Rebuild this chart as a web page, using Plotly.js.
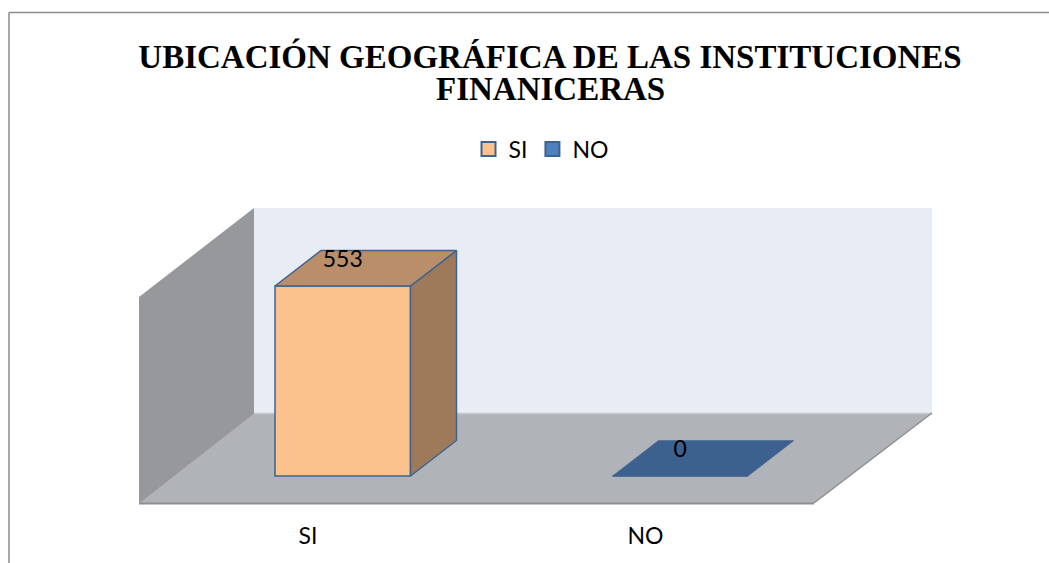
<!DOCTYPE html>
<html><head><meta charset="utf-8">
<script src="https://cdn.plot.ly/plotly-3.0.1.min.js"></script>
<style>html,body{margin:0;padding:0;background:#fff;overflow:hidden}</style>
</head><body><div id="chart" style="width:1049px;height:563px"></div>
<script>
var titleLine1 = "UBICACIÓN GEOGRÁFICA DE LAS INSTITUCIONES";
var titleLine2 = "FINANICERAS";
var categories = ["SI", "NO"];
var values = [553, 0];
var frontColors = ["#FBC28E", "#4F81BD"];
var topColors = ["#BA8E6A", "#3C618F"];
var sideColors = ["#9F7A5A", "#3C618F"];

var W = 1049, H = 563;
var plot = {l:139, r:932, t:208, b:503};
var pxPerCat = 337.5, pxPerVal = 190/553;
var xRange = [(plot.l-308)/pxPerCat, (plot.r-308)/pxPerCat];
var yRange = [-(plot.b-476)/pxPerVal, (476-plot.t)/pxPerVal];
var barOffset = -33/pxPerCat, barWidth = 135.5/pxPerCat;
var depthX = 46/pxPerCat, depthY = 35.5/pxPerVal;
var labelLift = 25/pxPerVal;
var edge = "#3D6491", font = "Lato, 'Open Sans', sans-serif", labelSize = 23;
var titleFont = {family:"'Liberation Serif',serif",size:33,weight:700,color:"#000"};

function px(x){return (x-plot.l)/(plot.r-plot.l);}
function py(y){return (plot.b-y)/(plot.b-plot.t);}
function poly(pts, color, line){
  return {type:"path", xref:"paper", yref:"paper", layer:"below",
    path:"M"+pts.map(function(p){return px(p[0])+","+py(p[1]);}).join("L")+"Z",
    fillcolor:color, line:line||{width:0}};
}
function seg(a,b,color,w){
  return {type:"line", xref:"paper", yref:"paper", layer:"below",
    x0:px(a[0]),y0:py(a[1]),x1:px(b[0]),y1:py(b[1]), line:{color:color,width:w}};
}
var shapes = [
  poly([[254,208],[932,208],[932,413],[254,413]], "#E8ECF5"),
  poly([[139,297],[254,208],[254,413],[139,503]], "#97989B"),
  poly([[139,503],[254,413],[932,413],[814,503]], "#B0B3B7"),
  seg([254,413.5],[932,413.5],"#C4C7CC",1.5),
  seg([139,503],[254,413],"#929396",1),
  seg([814,503],[932,413],"#8E8F92",1.5),
  seg([139,503.5],[814,503.5],"#8E8F92",2),
  seg([9,563],[9,12.5],"#8C8C8C",1.5),
  seg([9,12.5],[1049,12.5],"#8C8C8C",1.5)
];

var traces = [];
categories.forEach(function(c,i){
  traces.push({type:"bar", name:c, x:[i], y:[values[i]], offset:barOffset, width:barWidth,
    marker:{color:frontColors[i], line:{color:edge, width:1.5}},
    hoverinfo:"name+y", base:0, showlegend:false});
});
categories.forEach(function(c,i){
  var x0=i+barOffset, x1=x0+barWidth, v=values[i];
  if(v>0){
    traces.push({type:"scatter",mode:"lines",fill:"toself",fillcolor:sideColors[i],
      x:[x1,x1+depthX,x1+depthX,x1,x1], y:[0,depthY,v+depthY,v,0],
      line:{color:edge,width:1.5},showlegend:false,hoverinfo:"skip"});
  }
  traces.push({type:"scatter",mode:"lines",fill:"toself",fillcolor:topColors[i],
    x:[x0,x0+depthX,x1+depthX,x1,x0], y:[v,v+depthY,v+depthY,v,v],
    line:{color:v>0?edge:topColors[i],width:v>0?1.5:0.5},showlegend:false,hoverinfo:"skip"});
});
categories.forEach(function(c,i){
  traces.push({type:"scatter",mode:"markers",name:c,x:[null],y:[null],showlegend:true,hoverinfo:"skip",
    marker:{symbol:"square",size:14,color:frontColors[i],line:{color:edge,width:2}}});
});
traces.push({type:"scatter",mode:"text",x:categories.map(function(c,i){return i+barOffset+barWidth/2;}),
  y:values.map(function(v){return v+labelLift;}),text:values.map(String),textposition:"middle center",
  textfont:{family:font,size:labelSize,color:"#000"},showlegend:false,hoverinfo:"skip"});

var layout = {
  width:W,height:H,paper_bgcolor:"#fff",plot_bgcolor:"rgba(0,0,0,0)",
  margin:{l:plot.l,r:W-plot.r,t:plot.t,b:H-plot.b,pad:0},
  showlegend:true,barmode:"overlay",
  title:{text:titleLine1,font:titleFont,
    xref:"paper",x:px(550),xanchor:"center",yref:"container",y:1-56/H,yanchor:"middle"},
  legend:{orientation:"h",x:px(541),xanchor:"center",y:py(149),yanchor:"middle",
    font:{family:font,size:labelSize,color:"#000"},traceorder:"normal",bgcolor:"rgba(0,0,0,0)",
    itemclick:false,itemdoubleclick:false},
  xaxis:{type:"linear",range:xRange,tickmode:"array",tickvals:categories.map(function(c,i){return i;}),
    ticktext:categories,showgrid:false,zeroline:false,showline:false,ticks:"",ticklabelstandoff:17,
    tickfont:{family:font,size:labelSize,color:"#000"},fixedrange:true},
  yaxis:{range:yRange,visible:false,showgrid:false,zeroline:false,fixedrange:true},
  shapes:shapes,
  annotations:[{text:titleLine2,xref:"paper",yref:"paper",x:px(550),y:py(89),xanchor:"center",yanchor:"middle",
    showarrow:false,font:titleFont}]
};
Plotly.newPlot("chart",traces,layout,{displayModeBar:false,responsive:false});
</script></body></html>
